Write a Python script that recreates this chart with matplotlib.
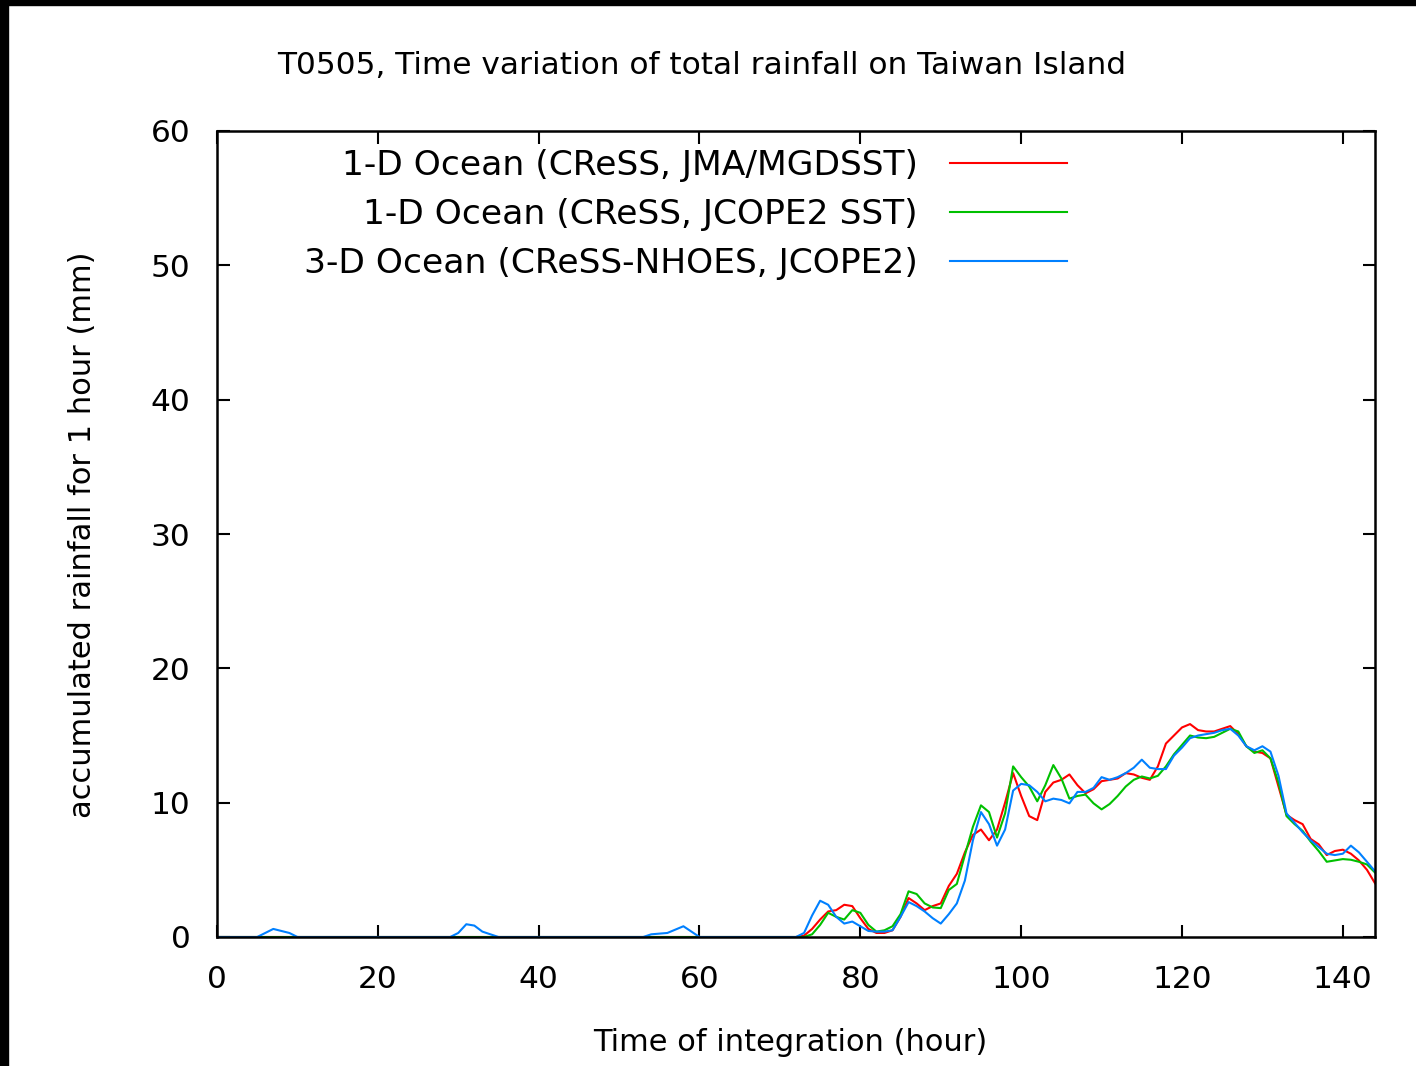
import numpy as np
import matplotlib
matplotlib.use("Agg")
import matplotlib.pyplot as plt
from matplotlib.patches import Rectangle

# hourly rainfall on Taiwan Island (mm / 1 h), hours 0..144
hours = np.arange(0, 145)

# 1-D Ocean (CReSS, JMA/MGDSST) - red, nonzero part starts at hour 73
red_tail = [0.1, 0.6, 1.3, 1.9, 2.0, 2.4, 2.3, 1.4, 0.6, 0.3, 0.3,
            0.5, 1.5, 2.9, 2.5, 2.0, 2.3, 2.5, 3.8, 4.7, 6.3, 7.6, 8.0,
            7.2, 8.0, 10.0, 12.2, 10.5, 9.0, 8.7, 10.8, 11.5, 11.7, 12.1,
            11.3, 10.7, 11.0, 11.6, 11.7, 11.8, 12.2, 12.1, 11.85, 11.7,
            12.7, 14.4, 15.0, 15.6, 15.85, 15.4, 15.3, 15.3, 15.5, 15.7,
            15.1, 14.2, 13.8, 13.7, 13.3, 11.2, 9.1, 8.7, 8.4, 7.3, 6.9,
            6.1, 6.4, 6.5, 6.2, 5.7, 5.0, 4.0]

# 1-D Ocean (CReSS, JCOPE2 SST) - green, starts at hour 73
green_tail = [0.0, 0.2, 0.9, 1.8, 1.5, 1.3, 2.0, 1.8, 0.9, 0.4, 0.5,
              0.8, 1.7, 3.4, 3.2, 2.5, 2.2, 2.15, 3.5, 3.95, 6.1, 8.2, 9.8,
              9.3, 7.4, 9.2, 12.7, 11.9, 11.2, 10.1, 11.3, 12.8, 11.8, 10.3,
              10.5, 10.6, 9.95, 9.5, 9.9, 10.5, 11.2, 11.7, 11.95, 11.8,
              12.0, 12.7, 13.6, 14.3, 15.0, 14.85, 14.8, 14.9, 15.2, 15.5,
              15.3, 14.2, 13.7, 13.9, 13.3, 11.5, 9.0, 8.4, 7.9, 7.1, 6.4,
              5.6, 5.7, 5.8, 5.75, 5.6, 5.4, 4.8]

# 3-D Ocean (CReSS-NHOES, JCOPE2) - blue, small early bumps + tail from hour 73
blue_early = {6: 0.3, 7: 0.6, 8: 0.45, 9: 0.3,
              30: 0.3, 31: 0.95, 32: 0.85, 33: 0.4, 34: 0.2,
              54: 0.2, 55: 0.25, 56: 0.3, 57: 0.55, 58: 0.8, 59: 0.4}
blue_tail = [0.3, 1.6, 2.7, 2.4, 1.5, 1.0, 1.15, 0.8, 0.45, 0.4, 0.4,
             0.5, 1.5, 2.6, 2.3, 1.9, 1.4, 1.0, 1.7, 2.5, 4.2, 7.2, 9.3,
             8.4, 6.8, 8.0, 10.9, 11.4, 11.3, 10.8, 10.1, 10.3, 10.2, 9.95,
             10.8, 10.8, 11.1, 11.9, 11.7, 11.9, 12.2, 12.6, 13.2, 12.6,
             12.5, 12.5, 13.5, 14.1, 14.8, 15.0, 15.1, 15.2, 15.4, 15.5,
             15.0, 14.2, 13.9, 14.2, 13.8, 12.0, 9.2, 8.5, 7.8, 7.2, 6.7,
             6.2, 6.1, 6.2, 6.8, 6.3, 5.6, 4.9]

red = np.zeros(len(hours))
red[73:] = red_tail
green = np.zeros(len(hours))
green[73:] = green_tail
blue = np.zeros(len(hours))
for h, v in blue_early.items():
    blue[h] = v
blue[73:] = blue_tail

labels = ["1-D Ocean (CReSS, JMA/MGDSST)",
          "1-D Ocean (CReSS, JCOPE2 SST)",
          "3-D Ocean (CReSS-NHOES, JCOPE2)"]
colors = ["#ff0000", "#00c000", "#0080ff"]

plt.rcParams["font.family"] = "DejaVu Sans"
fs = 22.5

fig = plt.figure(figsize=(14.16, 10.66), dpi=100)
ax = fig.add_axes([217 / 1416, 1 - 937 / 1066, 1158 / 1416, 806 / 1066])

for y, lab, c in zip([red, green, blue], labels, colors):
    ax.plot(hours, y, color=c, lw=1.5, label=lab)

ax.set_xlim(0, 144)
ax.set_ylim(0, 60)
ax.set_xticks(np.arange(0, 141, 20))
ax.set_yticks(np.arange(0, 61, 10))
ax.tick_params(direction="in", length=9, width=1.5, top=True, right=True,
               labelsize=fs, colors="black")
ax.tick_params(axis="y", pad=19)
ax.tick_params(axis="x", pad=20)
for s in ax.spines.values():
    s.set_linewidth(1.8)

ax.set_xlabel("Time of integration (hour)", fontsize=22)
ax.xaxis.set_label_coords((790 - 217) / 1158, (937 - 1028) / 806)
ax.set_ylabel("accumulated rainfall for 1 hour (mm)", fontsize=22)
ax.yaxis.set_label_coords((97 - 217) / 1158, (937 - 535) / 806)
fig.text(702 / 1416, 1 - 65 / 1066, "T0505, Time variation of total rainfall on Taiwan Island",
         ha="center", va="center", fontsize=fs)

ax.legend(loc="upper right", bbox_to_anchor=(0.734, 0.9775), frameon=False,
          markerfirst=False, fontsize=24.8, handlelength=3.4, handletextpad=0.93,
          labelspacing=0.46, borderpad=0, borderaxespad=0)

# black frame strips at the top and left edge of the picture
fig.patches.append(Rectangle((0, 1 - 5 / 1066), 1, 5 / 1066, transform=fig.transFigure,
                             color="black", zorder=10))
fig.patches.append(Rectangle((0, 0), 8 / 1416, 1, transform=fig.transFigure,
                             color="black", zorder=10))

fig.savefig("out.png", dpi=100)
